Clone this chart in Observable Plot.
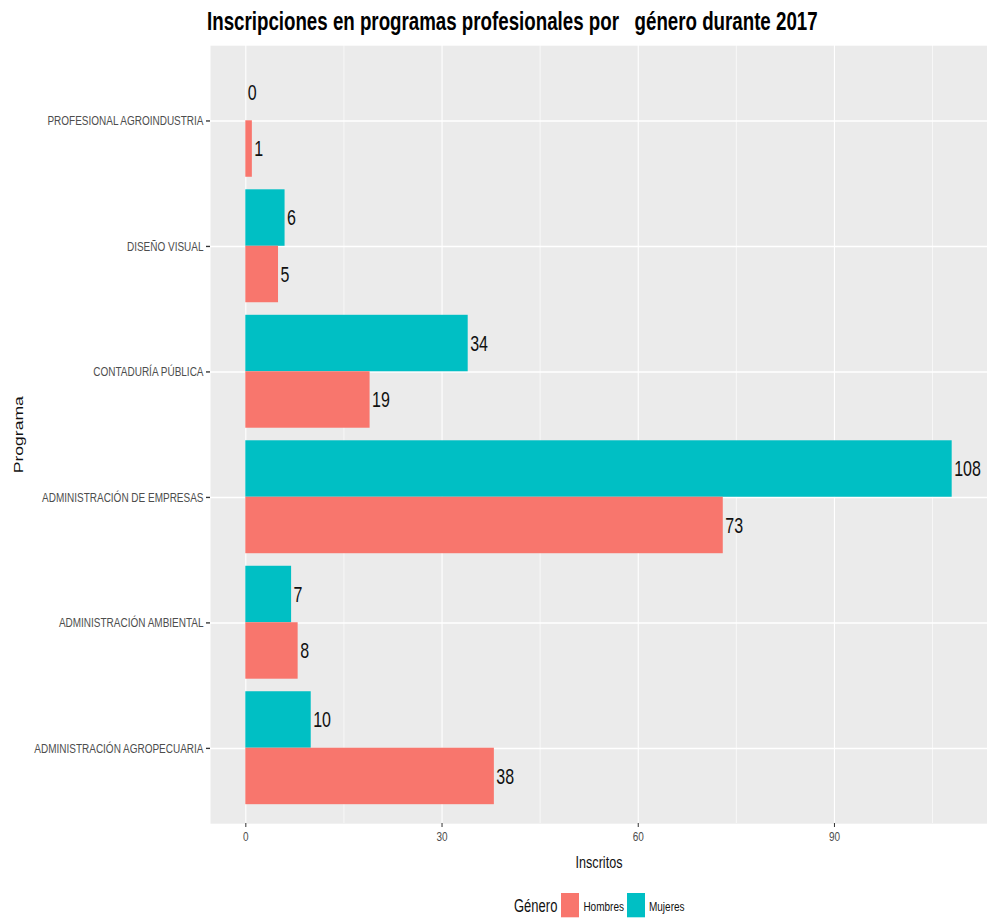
<!DOCTYPE html>
<html><head><meta charset="utf-8">
<script src="https://cdn.jsdelivr.net/npm/d3@7"></script>
<script src="https://cdn.jsdelivr.net/npm/@observablehq/plot@0.6"></script>
<style>
html,body{margin:0;padding:0;background:#fff;}
#stage{width:987px;height:922px;position:relative;font-family:"Liberation Sans",Arial,sans-serif;}
#title{height:45px;position:relative;}
#title span{position:absolute;left:207px;top:10px;font-weight:bold;font-size:17.5px;line-height:1;white-space:pre;color:#000;transform:scaleY(1.35);transform-origin:0 0;}
#chart svg{display:block;}
#legend{position:absolute;left:514px;top:893px;height:18px;display:flex;align-items:center;font-size:10px;color:#111;transform:scaleY(1.35);transform-origin:0 0;}
#legend .lab{font-size:13px;margin-right:4px;}
#legend .sw{width:18px;height:18px;margin-right:4px;}
#legend .it{margin-right:3px;}
</style></head>
<body>
<div id="stage">
  <div id="title"><span id="titleText">Inscripciones en programas profesionales por   género durante 2017</span></div>
  <div id="chart"></div>
  <div id="legend"></div>
</div>
<script>
const programas = ["PROFESIONAL AGROINDUSTRIA","DISEÑO VISUAL","CONTADURÍA PÚBLICA","ADMINISTRACIÓN DE EMPRESAS","ADMINISTRACIÓN AMBIENTAL","ADMINISTRACIÓN AGROPECUARIA"];
const hombres = [1, 5, 19, 73, 8, 38];
const mujeres = [0, 6, 34, 108, 7, 10];
const generos = ["Hombres", "Mujeres"];
const colores = ["#F8766D", "#00BFC4"];
const xTicks = [0, 30, 60, 90];
const xMinor = [15, 45, 75, 105];

const dataH = programas.map((p, i) => ({programa: p, genero: "Hombres", inscritos: hombres[i]}));
const dataM = programas.map((p, i) => ({programa: p, genero: "Mujeres", inscritos: mujeres[i]}));

const S = 1.35;            // vertical stretch of the reference picture
const panelH = 576.3;
const H = 615;
const half = 0.9 * panelH / 6.2 / 2;

const plot = Plot.plot({
  width: 987,
  height: H,
  marginTop: 0,
  marginBottom: H - panelH,
  marginLeft: 210,
  marginRight: 0,
  style: {fontFamily: "'Liberation Sans', Arial, sans-serif", background: "white"},
  x: {domain: [-5.4, 113.4]},
  y: {domain: programas, paddingInner: 0.1, paddingOuter: 0.15, round: false},
  color: {domain: generos, range: colores},
  marks: [
    Plot.frame({fill: "#EBEBEB", stroke: null}),
    Plot.ruleX(xMinor, {stroke: "white", strokeWidth: 0.55}),
    Plot.ruleX(xTicks, {stroke: "white", strokeWidth: 1.1}),
    Plot.gridY({stroke: "white", strokeOpacity: 1, strokeWidth: 1.1}),
    Plot.barX(dataM, {x1: 0, x2: "inscritos", y: "programa", fill: "genero", insetBottom: half}),
    Plot.barX(dataH, {x1: 0, x2: "inscritos", y: "programa", fill: "genero", insetTop: half}),
    Plot.text(dataM, {x: "inscritos", y: "programa", text: d => String(d.inscritos), dy: -half / 2, dx: 2, textAnchor: "start", fontSize: 16, fill: "#111"}),
    Plot.text(dataH, {x: "inscritos", y: "programa", text: d => String(d.inscritos), dy: half / 2, dx: 2, textAnchor: "start", fontSize: 16, fill: "#111"}),
    Plot.axisY({tickSize: 4, tickPadding: 3, fontSize: 10, color: "#4D4D4D", stroke: "#333", label: null}),
    Plot.axisX({ticks: xTicks, tickSize: 3, tickPadding: 3, fontSize: 10, color: "#4D4D4D", stroke: "#333", label: null}),
    Plot.text(["Inscritos"], {frameAnchor: "bottom", dy: 28.9, lineAnchor: "middle", fontSize: 12.6, fill: "#111"}),
    Plot.text(["Programa"], {frameAnchor: "left", dx: -192, rotate: -90, textAnchor: "middle", lineAnchor: "middle", fontSize: 13, fill: "#111"})
  ]
});
plot.setAttribute("height", H * S);
plot.setAttribute("preserveAspectRatio", "none");
document.getElementById("chart").appendChild(plot);

// legend
const leg = document.getElementById("legend");
const lab = document.createElement("span"); lab.className = "lab"; lab.textContent = "Género"; leg.appendChild(lab);
generos.forEach((g, i) => {
  const sw = document.createElement("span"); sw.className = "sw"; sw.style.background = colores[i]; leg.appendChild(sw);
  const t = document.createElement("span"); t.className = "it"; t.textContent = g; leg.appendChild(t);
});

// fit title width
const tt = document.getElementById("titleText");
const w = tt.getBoundingClientRect().width;
tt.style.fontSize = (17.5 * 611 / w) + "px";
</script>
</body></html>
